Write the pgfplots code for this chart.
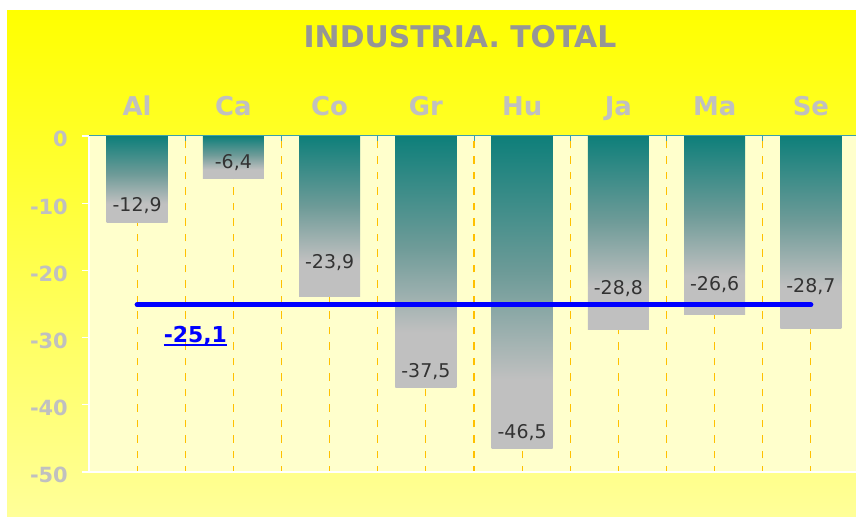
\documentclass[border=0pt]{standalone}
\usepackage{pgfplots}
\usepackage{pgfplotstable}
\pgfplotsset{compat=1.18}
\usepackage{fontspec}
\setmainfont{DejaVu Sans}
\definecolor{bgtop}{RGB}{255,255,0}
\definecolor{bgbot}{RGB}{255,255,153}
\definecolor{plotbg}{RGB}{255,255,204}
\definecolor{titlegray}{RGB}{150,150,150}
\definecolor{lblgray}{RGB}{192,192,192}
\definecolor{datagray}{RGB}{51,51,51}
\definecolor{barteal}{RGB}{14,127,122}
\definecolor{bargray}{RGB}{192,192,192}
\definecolor{barmid}{RGB}{110,155,152}
\definecolor{gridorange}{RGB}{255,192,0}
\definecolor{axteal}{RGB}{60,160,170}
\pgfdeclareverticalshading{barshade}{100bp}{color(0bp)=(bargray); color(25bp)=(bargray); color(36bp)=(bargray); color(53bp)=(barmid); color(75bp)=(barteal); color(100bp)=(barteal)}
\newcommand\ul[1]{\setbox0\hbox{#1}\rlap{\rule[-3.3bp]{\wd0}{2.4bp}}\box0}
\pgfplotstableread{
x y lab
0 -11.26 -12,9
1 -4.80 -6,4
2 -19.70 -23,9
3 -35.90 -37,5
4 -45.00 -46,5
5 -23.66 -28,8
6 -23.00 -26,6
7 -23.26 -28,7
}\labs
\begin{document}
\begin{tikzpicture}[x=1bp,y=1bp]
\useasboundingbox (0,0) rectangle (856,518);
\fill[white] (0,0) rectangle (856,518);
\shade[top color=bgtop, bottom color=bgbot] (7,1) rectangle (856,507);
\node[font=\fontsize{30}{30}\selectfont\bfseries, text=titlegray] at (460,481) {INDUSTRIA. TOTAL};
\begin{axis}[
  at={(89bp,46bp)}, anchor=south west,
  scale only axis, width=770bp, height=336bp,
  xmin=-0.5, xmax=7.5, ymin=-50, ymax=0,
  clip=false,
  axis background/.style={fill=plotbg},
  axis line style={draw=none},
  xtick={0,1,2,3,4,5,6,7},
  xticklabels={Al,Ca,Co,Gr,Hu,Ja,Ma,Se},
  xtick pos=right, xticklabel pos=right,
  minor xtick={-0.5,0.5,1.5,2.5,3.5,4.5,5.5,6.5,7.5},
  major x tick style={draw=none},
  minor x tick style={axteal, line width=1bp},
  minor tick length=8bp,
  major tick length=7bp,
  ytick={-50,-40,-30,-20,-10,0},
  yticklabels={-50,-40,-30,-20,-10,0},
  ytick pos=left,
  ytick align=outside,
  y tick style={white, line width=1.2bp},
  xticklabel style={font=\fontsize{26}{26}\selectfont\bfseries, text=lblgray, anchor=base, inner sep=0pt, yshift=20.5bp},
  yticklabel style={font=\fontsize{21}{21}\selectfont\bfseries, text=lblgray, anchor=base east, inner sep=0pt, yshift=-11bp, xshift=-14bp},
  barsty/.style={ybar, bar width=0.635, bar shift=0pt, draw=none, shading=barshade},
]
\pgfplotsinvokeforeach{-0.5,0,0.5,1,1.5,2,2.5,3,3.5,4,4.5,5,5.5,6,6.5,7,7.5}{
  \draw[gridorange, line width=1.1bp, dash pattern=on 7.5bp off 8bp, dash phase=2bp] (axis cs:#1,-50) -- (axis cs:#1,0);
}
\addplot[barsty] coordinates {(0,-12.9)};
\addplot[barsty] coordinates {(1,-6.4)};
\addplot[barsty] coordinates {(2,-23.9)};
\addplot[barsty] coordinates {(3,-37.5)};
\addplot[barsty] coordinates {(4,-46.5)};
\addplot[barsty] coordinates {(5,-28.8)};
\addplot[barsty] coordinates {(6,-26.6)};
\addplot[barsty] coordinates {(7,-28.7)};
\addplot[blue, line width=5bp, line cap=round] coordinates {(0,-25.1) (7,-25.1)};
\addplot[draw=none, mark=none, nodes near coords, point meta=explicit symbolic,
  nodes near coords style={font=\fontsize{19}{19}\selectfont, text=datagray, anchor=base, inner sep=0pt}]
  table[x=x, y=y, meta=lab]{\labs};
\draw[white, line width=1.5bp] (rel axis cs:0,0) -- (rel axis cs:0,1);
\draw[white, line width=2.2bp] (rel axis cs:0,0) -- (rel axis cs:1,0);
\draw[axteal, line width=1bp] (rel axis cs:0,1) -- (rel axis cs:1,1);
\node[font=\fontsize{22}{22}\selectfont\bfseries, text=blue, anchor=base] at (axis cs:0.605,-30.76) {\ul{-25,1}};
\end{axis}
\end{tikzpicture}
\end{document}
